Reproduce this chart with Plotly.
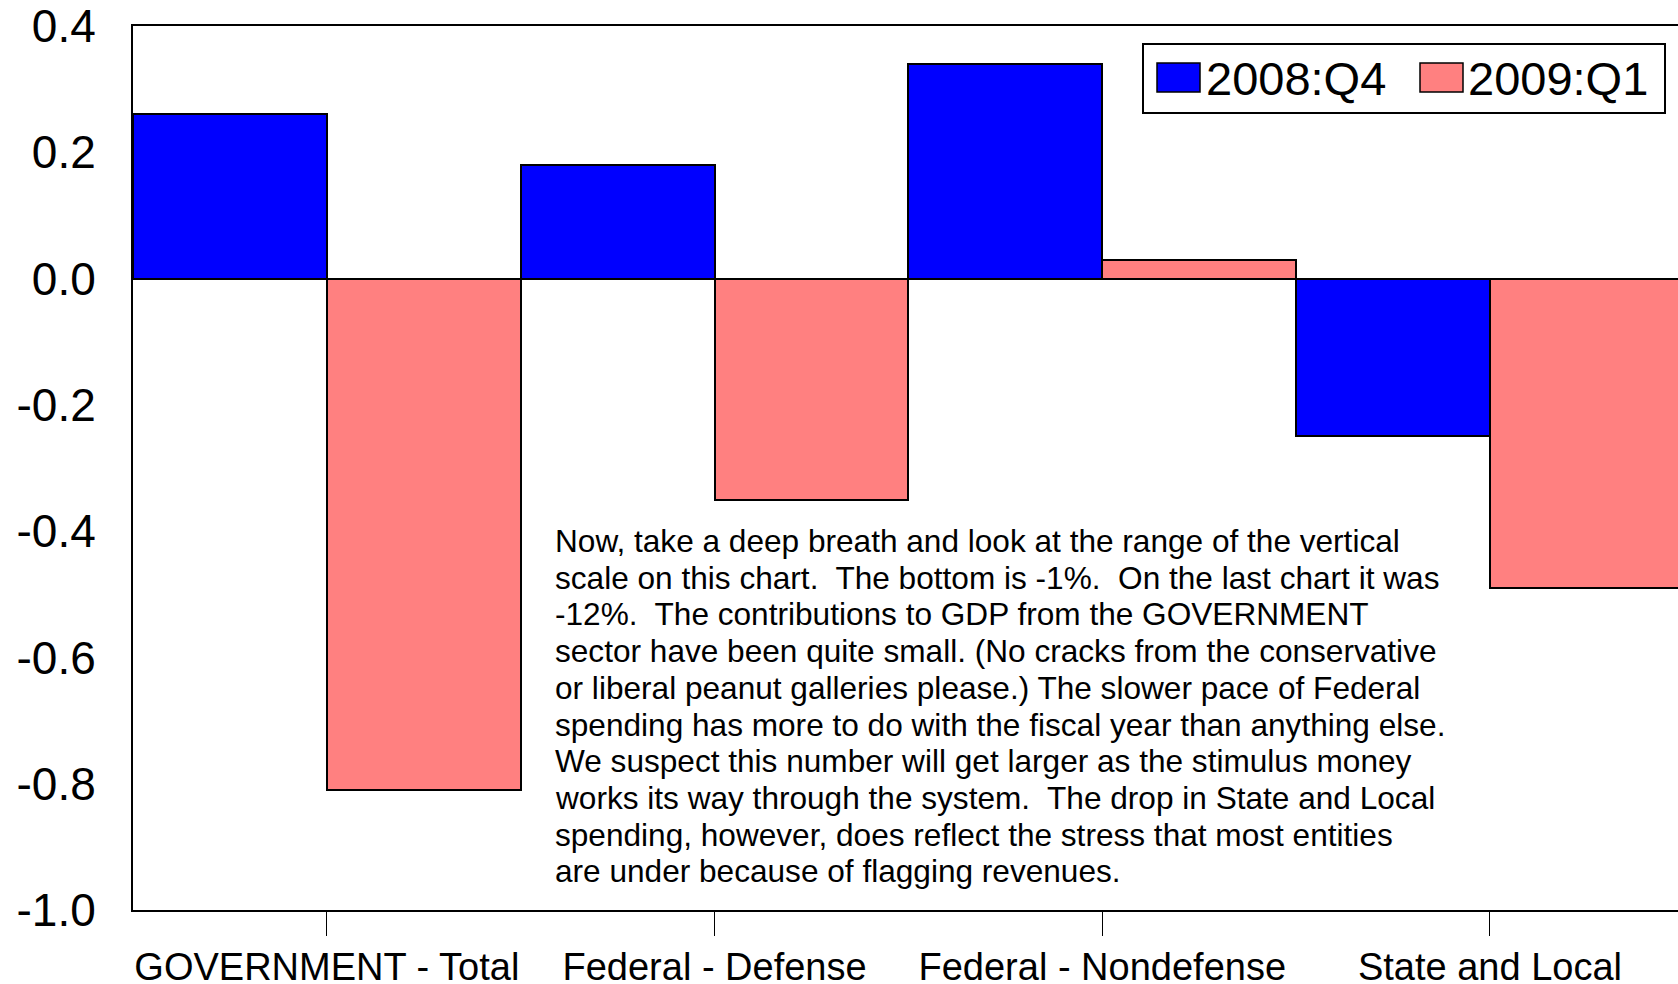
import plotly.graph_objects as go

W, H = 1678, 984
L, R, T, B = 133, 0, 26, 74
FONT = "Liberation Sans, Arial, sans-serif"

categories = ["GOVERNMENT - Total", "Federal - Defense", "Federal - Nondefense", "State and Local"]
q4_2008 = [0.26, 0.18, 0.34, -0.25]
q1_2009 = [-0.81, -0.35, 0.03, -0.49]
series_names = ["2008:Q4", "2009:Q1"]
series_colors = ["#0000FF", "#FF8080"]
y_ticks = [-1.0, -0.8, -0.6, -0.4, -0.2, 0.0, 0.2, 0.4]
y_ticktext = ["-1.0", "-0.8", "-0.6", "-0.4", "-0.2", "0.0", "0.2", "0.4"]

note_lines = [
    "Now, take a deep breath and look at the range of the vertical",
    "scale on this chart.  The bottom is -1%.  On the last chart it was",
    "-12%.  The contributions to GDP from the GOVERNMENT",
    "sector have been quite small. (No cracks from the conservative",
    "or liberal peanut galleries please.) The slower pace of Federal",
    "spending has more to do with the fiscal year than anything else.",
    "We suspect this number will get larger as the stimulus money",
    "works its way through the system.  The drop in State and Local",
    "spending, however, does reflect the stress that most entities",
    "are under because of flagging revenues.",
]


def px(x):
    return (x - L) / (W - L - R)


def py(y):
    return (H - B - y) / (H - T - B)


fig = go.Figure()
for name, vals, col in zip(series_names, [q4_2008, q1_2009], series_colors):
    fig.add_trace(go.Bar(x=categories, y=vals, name=name, marker_color=col,
                         marker_line=dict(color="black", width=2), showlegend=False))

# custom legend (large swatches like the original)
shapes = [dict(type="rect", xref="paper", yref="paper", x0=px(1143), x1=px(1665),
               y0=py(113), y1=py(44), line=dict(color="black", width=2), fillcolor="white")]
annotations = []
for (sx, tx), name, col in zip([(1157, 1204), (1420, 1466)], series_names, series_colors):
    shapes.append(dict(type="rect", xref="paper", yref="paper", x0=px(sx), x1=px(sx + 43),
                       y0=py(92), y1=py(63), line=dict(color="black", width=1.5), fillcolor=col))
    annotations.append(dict(text=name, xref="paper", yref="paper", x=px(tx), y=py(78),
                            xanchor="left", yanchor="middle", showarrow=False,
                            font=dict(size=47, color="black", family=FONT)))

# comment text, one annotation per line to keep the original line spacing
for i, line in enumerate(note_lines):
    annotations.append(dict(text=line, xref="paper", yref="paper", x=px(553),
                            y=py(541 + i * 36.7), xanchor="left", yanchor="middle",
                            align="left", showarrow=False,
                            font=dict(size=31.6, color="black", family=FONT)))

fig.update_layout(
    width=W, height=H,
    margin=dict(l=L, r=R, t=T, b=B),
    plot_bgcolor="white", paper_bgcolor="white",
    barmode="group", bargap=0, bargroupgap=0,
    font=dict(family=FONT, color="black"),
    shapes=shapes, annotations=annotations,
    xaxis=dict(type="category", range=[-0.5, 3.485], showline=True, linecolor="black",
               linewidth=2, mirror=True, ticks="outside", ticklen=24, tickwidth=1,
               tickcolor="black", showgrid=False, tickfont=dict(size=38),
               automargin=False, ticklabelstandoff=-2),
    xaxis2=dict(overlaying="x", anchor="y", side="bottom", range=[-0.5, 3.485],
                tickvals=[0, 1, 2, 3], ticks="inside", ticklen=23, tickwidth=1,
                tickcolor="black", showticklabels=False, showgrid=False,
                zeroline=False, showline=False, automargin=False),
    yaxis=dict(range=[-1.0, 0.4], tickvals=y_ticks, ticktext=y_ticktext, showline=True,
               linecolor="black", linewidth=2, mirror=False, ticks="", showgrid=False,
               zeroline=True, zerolinecolor="black", zerolinewidth=2,
               tickfont=dict(size=46), ticklabelstandoff=26, automargin=False,
               ticklabeloverflow="allow"),
)

# the page's default body margin would push the 1678x984 figure off the window
fig.write_html("out.html", config={"displayModeBar": False},
               post_script="document.body.style.margin='0';")
